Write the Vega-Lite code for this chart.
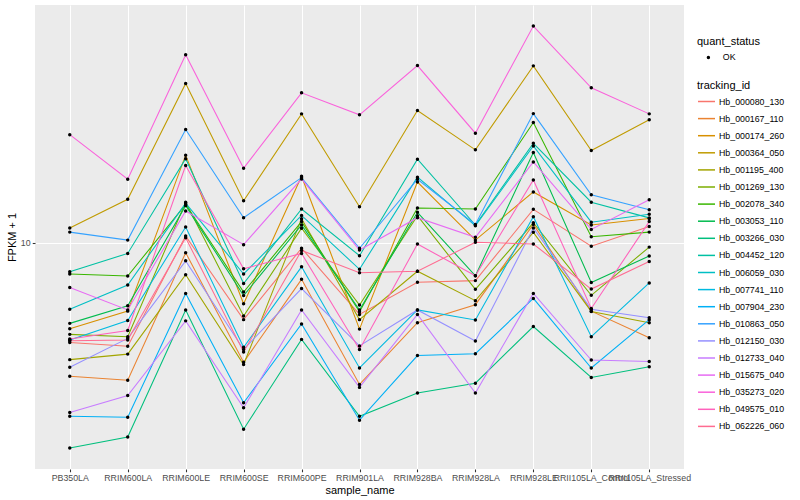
{
  "$schema": "https://vega.github.io/schema/vega-lite/v6.json",
  "width": 649,
  "height": 464,
  "autosize": {"type": "none"},
  "padding": {"left": 35, "top": 5, "right": 116, "bottom": 31},
  "background": "white",
  "config": {
    "view": {"fill": "#EBEBEB", "stroke": null},
    "font": "Liberation Sans",
    "axis": {
      "domain": false,
      "gridColor": "white",
      "gridWidth": 1.07,
      "tickColor": "#333333",
      "tickSize": 2.75,
      "tickWidth": 1.07,
      "labelColor": "#4D4D4D",
      "labelFontSize": 8.8,
      "labelPadding": 2.2,
      "titleColor": "black",
      "titleFontSize": 11,
      "titleFontWeight": "normal"
    },
    "legend": {
      "titleFontSize": 11,
      "titleFontWeight": "normal",
      "titleColor": "black",
      "labelFontSize": 8.8,
      "labelColor": "black",
      "padding": 0
    }
  },
  "data": {
    "values": [
      {"tracking_id": "Hb_000080_130", "sample_name": "PB350LA", "fpkm": 6.32, "quant_status": "OK"},
      {"tracking_id": "Hb_000080_130", "sample_name": "RRIM600LA", "fpkm": 6.21, "quant_status": "OK"},
      {"tracking_id": "Hb_000080_130", "sample_name": "RRIM600LE", "fpkm": 10.31, "quant_status": "OK"},
      {"tracking_id": "Hb_000080_130", "sample_name": "RRIM600SE", "fpkm": 7.02, "quant_status": "OK"},
      {"tracking_id": "Hb_000080_130", "sample_name": "RRIM600PE", "fpkm": 9.75, "quant_status": "OK"},
      {"tracking_id": "Hb_000080_130", "sample_name": "RRIM901LA", "fpkm": 7.19, "quant_status": "OK"},
      {"tracking_id": "Hb_000080_130", "sample_name": "RRIM928BA", "fpkm": 8.34, "quant_status": "OK"},
      {"tracking_id": "Hb_000080_130", "sample_name": "RRIM928LA", "fpkm": 8.40, "quant_status": "OK"},
      {"tracking_id": "Hb_000080_130", "sample_name": "RRIM928LE", "fpkm": 11.66, "quant_status": "OK"},
      {"tracking_id": "Hb_000080_130", "sample_name": "RRII105LA_Control", "fpkm": 9.84, "quant_status": "OK"},
      {"tracking_id": "Hb_000080_130", "sample_name": "RRII105LA_Stressed", "fpkm": 10.77, "quant_status": "OK"},

      {"tracking_id": "Hb_000167_110", "sample_name": "PB350LA", "fpkm": 5.41, "quant_status": "OK"},
      {"tracking_id": "Hb_000167_110", "sample_name": "RRIM600LA", "fpkm": 5.31, "quant_status": "OK"},
      {"tracking_id": "Hb_000167_110", "sample_name": "RRIM600LE", "fpkm": 9.55, "quant_status": "OK"},
      {"tracking_id": "Hb_000167_110", "sample_name": "RRIM600SE", "fpkm": 5.77, "quant_status": "OK"},
      {"tracking_id": "Hb_000167_110", "sample_name": "RRIM600PE", "fpkm": 8.45, "quant_status": "OK"},
      {"tracking_id": "Hb_000167_110", "sample_name": "RRIM901LA", "fpkm": 5.21, "quant_status": "OK"},
      {"tracking_id": "Hb_000167_110", "sample_name": "RRIM928BA", "fpkm": 6.92, "quant_status": "OK"},
      {"tracking_id": "Hb_000167_110", "sample_name": "RRIM928LA", "fpkm": 7.52, "quant_status": "OK"},
      {"tracking_id": "Hb_000167_110", "sample_name": "RRIM928LE", "fpkm": 10.88, "quant_status": "OK"},
      {"tracking_id": "Hb_000167_110", "sample_name": "RRII105LA_Control", "fpkm": 7.30, "quant_status": "OK"},
      {"tracking_id": "Hb_000167_110", "sample_name": "RRII105LA_Stressed", "fpkm": 6.46, "quant_status": "OK"},

      {"tracking_id": "Hb_000174_260", "sample_name": "PB350LA", "fpkm": 6.73, "quant_status": "OK"},
      {"tracking_id": "Hb_000174_260", "sample_name": "RRIM600LA", "fpkm": 7.30, "quant_status": "OK"},
      {"tracking_id": "Hb_000174_260", "sample_name": "RRIM600LE", "fpkm": 14.96, "quant_status": "OK"},
      {"tracking_id": "Hb_000174_260", "sample_name": "RRIM600SE", "fpkm": 7.55, "quant_status": "OK"},
      {"tracking_id": "Hb_000174_260", "sample_name": "RRIM600PE", "fpkm": 13.58, "quant_status": "OK"},
      {"tracking_id": "Hb_000174_260", "sample_name": "RRIM901LA", "fpkm": 6.72, "quant_status": "OK"},
      {"tracking_id": "Hb_000174_260", "sample_name": "RRIM928BA", "fpkm": 13.22, "quant_status": "OK"},
      {"tracking_id": "Hb_000174_260", "sample_name": "RRIM928LA", "fpkm": 10.12, "quant_status": "OK"},
      {"tracking_id": "Hb_000174_260", "sample_name": "RRIM928LE", "fpkm": 12.63, "quant_status": "OK"},
      {"tracking_id": "Hb_000174_260", "sample_name": "RRII105LA_Control", "fpkm": 10.85, "quant_status": "OK"},
      {"tracking_id": "Hb_000174_260", "sample_name": "RRII105LA_Stressed", "fpkm": 11.18, "quant_status": "OK"},

      {"tracking_id": "Hb_000364_050", "sample_name": "PB350LA", "fpkm": 10.70, "quant_status": "OK"},
      {"tracking_id": "Hb_000364_050", "sample_name": "RRIM600LA", "fpkm": 12.21, "quant_status": "OK"},
      {"tracking_id": "Hb_000364_050", "sample_name": "RRIM600LE", "fpkm": 20.80, "quant_status": "OK"},
      {"tracking_id": "Hb_000364_050", "sample_name": "RRIM600SE", "fpkm": 12.13, "quant_status": "OK"},
      {"tracking_id": "Hb_000364_050", "sample_name": "RRIM600PE", "fpkm": 18.09, "quant_status": "OK"},
      {"tracking_id": "Hb_000364_050", "sample_name": "RRIM901LA", "fpkm": 11.80, "quant_status": "OK"},
      {"tracking_id": "Hb_000364_050", "sample_name": "RRIM928BA", "fpkm": 18.37, "quant_status": "OK"},
      {"tracking_id": "Hb_000364_050", "sample_name": "RRIM928LA", "fpkm": 15.33, "quant_status": "OK"},
      {"tracking_id": "Hb_000364_050", "sample_name": "RRIM928LE", "fpkm": 22.56, "quant_status": "OK"},
      {"tracking_id": "Hb_000364_050", "sample_name": "RRII105LA_Control", "fpkm": 15.28, "quant_status": "OK"},
      {"tracking_id": "Hb_000364_050", "sample_name": "RRII105LA_Stressed", "fpkm": 17.60, "quant_status": "OK"},

      {"tracking_id": "Hb_001195_400", "sample_name": "PB350LA", "fpkm": 5.84, "quant_status": "OK"},
      {"tracking_id": "Hb_001195_400", "sample_name": "RRIM600LA", "fpkm": 5.99, "quant_status": "OK"},
      {"tracking_id": "Hb_001195_400", "sample_name": "RRIM600LE", "fpkm": 8.63, "quant_status": "OK"},
      {"tracking_id": "Hb_001195_400", "sample_name": "RRIM600SE", "fpkm": 5.71, "quant_status": "OK"},
      {"tracking_id": "Hb_001195_400", "sample_name": "RRIM600PE", "fpkm": 11.17, "quant_status": "OK"},
      {"tracking_id": "Hb_001195_400", "sample_name": "RRIM901LA", "fpkm": 7.02, "quant_status": "OK"},
      {"tracking_id": "Hb_001195_400", "sample_name": "RRIM928BA", "fpkm": 8.77, "quant_status": "OK"},
      {"tracking_id": "Hb_001195_400", "sample_name": "RRIM928LA", "fpkm": 7.66, "quant_status": "OK"},
      {"tracking_id": "Hb_001195_400", "sample_name": "RRIM928LE", "fpkm": 10.49, "quant_status": "OK"},
      {"tracking_id": "Hb_001195_400", "sample_name": "RRII105LA_Control", "fpkm": 7.29, "quant_status": "OK"},
      {"tracking_id": "Hb_001195_400", "sample_name": "RRII105LA_Stressed", "fpkm": 6.92, "quant_status": "OK"},

      {"tracking_id": "Hb_001269_130", "sample_name": "PB350LA", "fpkm": 6.56, "quant_status": "OK"},
      {"tracking_id": "Hb_001269_130", "sample_name": "RRIM600LA", "fpkm": 6.49, "quant_status": "OK"},
      {"tracking_id": "Hb_001269_130", "sample_name": "RRIM600LE", "fpkm": 12.05, "quant_status": "OK"},
      {"tracking_id": "Hb_001269_130", "sample_name": "RRIM600SE", "fpkm": 7.14, "quant_status": "OK"},
      {"tracking_id": "Hb_001269_130", "sample_name": "RRIM600PE", "fpkm": 10.69, "quant_status": "OK"},
      {"tracking_id": "Hb_001269_130", "sample_name": "RRIM901LA", "fpkm": 7.51, "quant_status": "OK"},
      {"tracking_id": "Hb_001269_130", "sample_name": "RRIM928BA", "fpkm": 11.32, "quant_status": "OK"},
      {"tracking_id": "Hb_001269_130", "sample_name": "RRIM928LA", "fpkm": 8.07, "quant_status": "OK"},
      {"tracking_id": "Hb_001269_130", "sample_name": "RRIM928LE", "fpkm": 10.96, "quant_status": "OK"},
      {"tracking_id": "Hb_001269_130", "sample_name": "RRII105LA_Control", "fpkm": 7.85, "quant_status": "OK"},
      {"tracking_id": "Hb_001269_130", "sample_name": "RRII105LA_Stressed", "fpkm": 9.80, "quant_status": "OK"},

      {"tracking_id": "Hb_002078_340", "sample_name": "PB350LA", "fpkm": 8.66, "quant_status": "OK"},
      {"tracking_id": "Hb_002078_340", "sample_name": "RRIM600LA", "fpkm": 8.58, "quant_status": "OK"},
      {"tracking_id": "Hb_002078_340", "sample_name": "RRIM600LE", "fpkm": 11.93, "quant_status": "OK"},
      {"tracking_id": "Hb_002078_340", "sample_name": "RRIM600SE", "fpkm": 7.97, "quant_status": "OK"},
      {"tracking_id": "Hb_002078_340", "sample_name": "RRIM600PE", "fpkm": 11.02, "quant_status": "OK"},
      {"tracking_id": "Hb_002078_340", "sample_name": "RRIM901LA", "fpkm": 7.28, "quant_status": "OK"},
      {"tracking_id": "Hb_002078_340", "sample_name": "RRIM928BA", "fpkm": 11.73, "quant_status": "OK"},
      {"tracking_id": "Hb_002078_340", "sample_name": "RRIM928LA", "fpkm": 11.68, "quant_status": "OK"},
      {"tracking_id": "Hb_002078_340", "sample_name": "RRIM928LE", "fpkm": 17.38, "quant_status": "OK"},
      {"tracking_id": "Hb_002078_340", "sample_name": "RRII105LA_Control", "fpkm": 10.28, "quant_status": "OK"},
      {"tracking_id": "Hb_002078_340", "sample_name": "RRII105LA_Stressed", "fpkm": 10.50, "quant_status": "OK"},

      {"tracking_id": "Hb_003053_110", "sample_name": "PB350LA", "fpkm": 6.90, "quant_status": "OK"},
      {"tracking_id": "Hb_003053_110", "sample_name": "RRIM600LA", "fpkm": 7.48, "quant_status": "OK"},
      {"tracking_id": "Hb_003053_110", "sample_name": "RRIM600LE", "fpkm": 11.86, "quant_status": "OK"},
      {"tracking_id": "Hb_003053_110", "sample_name": "RRIM600SE", "fpkm": 7.84, "quant_status": "OK"},
      {"tracking_id": "Hb_003053_110", "sample_name": "RRIM600PE", "fpkm": 10.85, "quant_status": "OK"},
      {"tracking_id": "Hb_003053_110", "sample_name": "RRIM901LA", "fpkm": 7.34, "quant_status": "OK"},
      {"tracking_id": "Hb_003053_110", "sample_name": "RRIM928BA", "fpkm": 11.50, "quant_status": "OK"},
      {"tracking_id": "Hb_003053_110", "sample_name": "RRIM928LA", "fpkm": 8.59, "quant_status": "OK"},
      {"tracking_id": "Hb_003053_110", "sample_name": "RRIM928LE", "fpkm": 15.14, "quant_status": "OK"},
      {"tracking_id": "Hb_003053_110", "sample_name": "RRII105LA_Control", "fpkm": 8.33, "quant_status": "OK"},
      {"tracking_id": "Hb_003053_110", "sample_name": "RRII105LA_Stressed", "fpkm": 9.41, "quant_status": "OK"},

      {"tracking_id": "Hb_003266_030", "sample_name": "PB350LA", "fpkm": 3.89, "quant_status": "OK"},
      {"tracking_id": "Hb_003266_030", "sample_name": "RRIM600LA", "fpkm": 4.09, "quant_status": "OK"},
      {"tracking_id": "Hb_003266_030", "sample_name": "RRIM600LE", "fpkm": 7.34, "quant_status": "OK"},
      {"tracking_id": "Hb_003266_030", "sample_name": "RRIM600SE", "fpkm": 4.24, "quant_status": "OK"},
      {"tracking_id": "Hb_003266_030", "sample_name": "RRIM600PE", "fpkm": 6.41, "quant_status": "OK"},
      {"tracking_id": "Hb_003266_030", "sample_name": "RRIM901LA", "fpkm": 4.50, "quant_status": "OK"},
      {"tracking_id": "Hb_003266_030", "sample_name": "RRIM928BA", "fpkm": 5.01, "quant_status": "OK"},
      {"tracking_id": "Hb_003266_030", "sample_name": "RRIM928LA", "fpkm": 5.24, "quant_status": "OK"},
      {"tracking_id": "Hb_003266_030", "sample_name": "RRIM928LE", "fpkm": 6.80, "quant_status": "OK"},
      {"tracking_id": "Hb_003266_030", "sample_name": "RRII105LA_Control", "fpkm": 5.38, "quant_status": "OK"},
      {"tracking_id": "Hb_003266_030", "sample_name": "RRII105LA_Stressed", "fpkm": 5.65, "quant_status": "OK"},

      {"tracking_id": "Hb_004452_120", "sample_name": "PB350LA", "fpkm": 8.75, "quant_status": "OK"},
      {"tracking_id": "Hb_004452_120", "sample_name": "RRIM600LA", "fpkm": 9.52, "quant_status": "OK"},
      {"tracking_id": "Hb_004452_120", "sample_name": "RRIM600LE", "fpkm": 14.72, "quant_status": "OK"},
      {"tracking_id": "Hb_004452_120", "sample_name": "RRIM600SE", "fpkm": 8.29, "quant_status": "OK"},
      {"tracking_id": "Hb_004452_120", "sample_name": "RRIM600PE", "fpkm": 11.68, "quant_status": "OK"},
      {"tracking_id": "Hb_004452_120", "sample_name": "RRIM901LA", "fpkm": 9.42, "quant_status": "OK"},
      {"tracking_id": "Hb_004452_120", "sample_name": "RRIM928BA", "fpkm": 14.68, "quant_status": "OK"},
      {"tracking_id": "Hb_004452_120", "sample_name": "RRIM928LA", "fpkm": 10.85, "quant_status": "OK"},
      {"tracking_id": "Hb_004452_120", "sample_name": "RRIM928LE", "fpkm": 15.80, "quant_status": "OK"},
      {"tracking_id": "Hb_004452_120", "sample_name": "RRII105LA_Control", "fpkm": 12.05, "quant_status": "OK"},
      {"tracking_id": "Hb_004452_120", "sample_name": "RRII105LA_Stressed", "fpkm": 11.21, "quant_status": "OK"},

      {"tracking_id": "Hb_006059_030", "sample_name": "PB350LA", "fpkm": 7.36, "quant_status": "OK"},
      {"tracking_id": "Hb_006059_030", "sample_name": "RRIM600LA", "fpkm": 8.23, "quant_status": "OK"},
      {"tracking_id": "Hb_006059_030", "sample_name": "RRIM600LE", "fpkm": 12.00, "quant_status": "OK"},
      {"tracking_id": "Hb_006059_030", "sample_name": "RRIM600SE", "fpkm": 8.66, "quant_status": "OK"},
      {"tracking_id": "Hb_006059_030", "sample_name": "RRIM600PE", "fpkm": 11.34, "quant_status": "OK"},
      {"tracking_id": "Hb_006059_030", "sample_name": "RRIM901LA", "fpkm": 8.85, "quant_status": "OK"},
      {"tracking_id": "Hb_006059_030", "sample_name": "RRIM928BA", "fpkm": 13.52, "quant_status": "OK"},
      {"tracking_id": "Hb_006059_030", "sample_name": "RRIM928LA", "fpkm": 10.81, "quant_status": "OK"},
      {"tracking_id": "Hb_006059_030", "sample_name": "RRIM928LE", "fpkm": 15.61, "quant_status": "OK"},
      {"tracking_id": "Hb_006059_030", "sample_name": "RRII105LA_Control", "fpkm": 10.99, "quant_status": "OK"},
      {"tracking_id": "Hb_006059_030", "sample_name": "RRII105LA_Stressed", "fpkm": 11.40, "quant_status": "OK"},

      {"tracking_id": "Hb_007741_110", "sample_name": "PB350LA", "fpkm": 6.39, "quant_status": "OK"},
      {"tracking_id": "Hb_007741_110", "sample_name": "RRIM600LA", "fpkm": 6.99, "quant_status": "OK"},
      {"tracking_id": "Hb_007741_110", "sample_name": "RRIM600LE", "fpkm": 10.75, "quant_status": "OK"},
      {"tracking_id": "Hb_007741_110", "sample_name": "RRIM600SE", "fpkm": 6.18, "quant_status": "OK"},
      {"tracking_id": "Hb_007741_110", "sample_name": "RRIM600PE", "fpkm": 8.95, "quant_status": "OK"},
      {"tracking_id": "Hb_007741_110", "sample_name": "RRIM901LA", "fpkm": 5.62, "quant_status": "OK"},
      {"tracking_id": "Hb_007741_110", "sample_name": "RRIM928BA", "fpkm": 7.34, "quant_status": "OK"},
      {"tracking_id": "Hb_007741_110", "sample_name": "RRIM928LA", "fpkm": 7.01, "quant_status": "OK"},
      {"tracking_id": "Hb_007741_110", "sample_name": "RRIM928LE", "fpkm": 11.27, "quant_status": "OK"},
      {"tracking_id": "Hb_007741_110", "sample_name": "RRII105LA_Control", "fpkm": 6.49, "quant_status": "OK"},
      {"tracking_id": "Hb_007741_110", "sample_name": "RRII105LA_Stressed", "fpkm": 8.31, "quant_status": "OK"},

      {"tracking_id": "Hb_007904_230", "sample_name": "PB350LA", "fpkm": 4.50, "quant_status": "OK"},
      {"tracking_id": "Hb_007904_230", "sample_name": "RRIM600LA", "fpkm": 4.48, "quant_status": "OK"},
      {"tracking_id": "Hb_007904_230", "sample_name": "RRIM600LE", "fpkm": 7.92, "quant_status": "OK"},
      {"tracking_id": "Hb_007904_230", "sample_name": "RRIM600SE", "fpkm": 4.79, "quant_status": "OK"},
      {"tracking_id": "Hb_007904_230", "sample_name": "RRIM600PE", "fpkm": 6.88, "quant_status": "OK"},
      {"tracking_id": "Hb_007904_230", "sample_name": "RRIM901LA", "fpkm": 4.42, "quant_status": "OK"},
      {"tracking_id": "Hb_007904_230", "sample_name": "RRIM928BA", "fpkm": 5.95, "quant_status": "OK"},
      {"tracking_id": "Hb_007904_230", "sample_name": "RRIM928LA", "fpkm": 6.00, "quant_status": "OK"},
      {"tracking_id": "Hb_007904_230", "sample_name": "RRIM928LE", "fpkm": 7.74, "quant_status": "OK"},
      {"tracking_id": "Hb_007904_230", "sample_name": "RRII105LA_Control", "fpkm": 5.62, "quant_status": "OK"},
      {"tracking_id": "Hb_007904_230", "sample_name": "RRII105LA_Stressed", "fpkm": 7.02, "quant_status": "OK"},

      {"tracking_id": "Hb_010863_050", "sample_name": "PB350LA", "fpkm": 10.50, "quant_status": "OK"},
      {"tracking_id": "Hb_010863_050", "sample_name": "RRIM600LA", "fpkm": 10.12, "quant_status": "OK"},
      {"tracking_id": "Hb_010863_050", "sample_name": "RRIM600LE", "fpkm": 16.83, "quant_status": "OK"},
      {"tracking_id": "Hb_010863_050", "sample_name": "RRIM600SE", "fpkm": 11.22, "quant_status": "OK"},
      {"tracking_id": "Hb_010863_050", "sample_name": "RRIM600PE", "fpkm": 13.49, "quant_status": "OK"},
      {"tracking_id": "Hb_010863_050", "sample_name": "RRIM901LA", "fpkm": 9.75, "quant_status": "OK"},
      {"tracking_id": "Hb_010863_050", "sample_name": "RRIM928BA", "fpkm": 13.39, "quant_status": "OK"},
      {"tracking_id": "Hb_010863_050", "sample_name": "RRIM928LA", "fpkm": 10.88, "quant_status": "OK"},
      {"tracking_id": "Hb_010863_050", "sample_name": "RRIM928LE", "fpkm": 18.11, "quant_status": "OK"},
      {"tracking_id": "Hb_010863_050", "sample_name": "RRII105LA_Control", "fpkm": 12.47, "quant_status": "OK"},
      {"tracking_id": "Hb_010863_050", "sample_name": "RRII105LA_Stressed", "fpkm": 11.64, "quant_status": "OK"},

      {"tracking_id": "Hb_012150_030", "sample_name": "PB350LA", "fpkm": 5.64, "quant_status": "OK"},
      {"tracking_id": "Hb_012150_030", "sample_name": "RRIM600LA", "fpkm": 6.44, "quant_status": "OK"},
      {"tracking_id": "Hb_012150_030", "sample_name": "RRIM600LE", "fpkm": 9.20, "quant_status": "OK"},
      {"tracking_id": "Hb_012150_030", "sample_name": "RRIM600SE", "fpkm": 6.12, "quant_status": "OK"},
      {"tracking_id": "Hb_012150_030", "sample_name": "RRIM600PE", "fpkm": 8.10, "quant_status": "OK"},
      {"tracking_id": "Hb_012150_030", "sample_name": "RRIM901LA", "fpkm": 6.22, "quant_status": "OK"},
      {"tracking_id": "Hb_012150_030", "sample_name": "RRIM928BA", "fpkm": 7.34, "quant_status": "OK"},
      {"tracking_id": "Hb_012150_030", "sample_name": "RRIM928LA", "fpkm": 6.36, "quant_status": "OK"},
      {"tracking_id": "Hb_012150_030", "sample_name": "RRIM928LE", "fpkm": 10.70, "quant_status": "OK"},
      {"tracking_id": "Hb_012150_030", "sample_name": "RRII105LA_Control", "fpkm": 7.36, "quant_status": "OK"},
      {"tracking_id": "Hb_012150_030", "sample_name": "RRII105LA_Stressed", "fpkm": 7.08, "quant_status": "OK"},

      {"tracking_id": "Hb_012733_040", "sample_name": "PB350LA", "fpkm": 4.58, "quant_status": "OK"},
      {"tracking_id": "Hb_012733_040", "sample_name": "RRIM600LA", "fpkm": 4.95, "quant_status": "OK"},
      {"tracking_id": "Hb_012733_040", "sample_name": "RRIM600LE", "fpkm": 6.98, "quant_status": "OK"},
      {"tracking_id": "Hb_012733_040", "sample_name": "RRIM600SE", "fpkm": 4.68, "quant_status": "OK"},
      {"tracking_id": "Hb_012733_040", "sample_name": "RRIM600PE", "fpkm": 7.34, "quant_status": "OK"},
      {"tracking_id": "Hb_012733_040", "sample_name": "RRIM901LA", "fpkm": 5.14, "quant_status": "OK"},
      {"tracking_id": "Hb_012733_040", "sample_name": "RRIM928BA", "fpkm": 7.19, "quant_status": "OK"},
      {"tracking_id": "Hb_012733_040", "sample_name": "RRIM928LA", "fpkm": 5.01, "quant_status": "OK"},
      {"tracking_id": "Hb_012733_040", "sample_name": "RRIM928LE", "fpkm": 7.92, "quant_status": "OK"},
      {"tracking_id": "Hb_012733_040", "sample_name": "RRII105LA_Control", "fpkm": 5.83, "quant_status": "OK"},
      {"tracking_id": "Hb_012733_040", "sample_name": "RRII105LA_Stressed", "fpkm": 5.79, "quant_status": "OK"},

      {"tracking_id": "Hb_015675_040", "sample_name": "PB350LA", "fpkm": 8.14, "quant_status": "OK"},
      {"tracking_id": "Hb_015675_040", "sample_name": "RRIM600LA", "fpkm": 7.34, "quant_status": "OK"},
      {"tracking_id": "Hb_015675_040", "sample_name": "RRIM600LE", "fpkm": 11.57, "quant_status": "OK"},
      {"tracking_id": "Hb_015675_040", "sample_name": "RRIM600SE", "fpkm": 9.91, "quant_status": "OK"},
      {"tracking_id": "Hb_015675_040", "sample_name": "RRIM600PE", "fpkm": 13.41, "quant_status": "OK"},
      {"tracking_id": "Hb_015675_040", "sample_name": "RRIM901LA", "fpkm": 9.67, "quant_status": "OK"},
      {"tracking_id": "Hb_015675_040", "sample_name": "RRIM928BA", "fpkm": 11.22, "quant_status": "OK"},
      {"tracking_id": "Hb_015675_040", "sample_name": "RRIM928LA", "fpkm": 10.25, "quant_status": "OK"},
      {"tracking_id": "Hb_015675_040", "sample_name": "RRIM928LE", "fpkm": 14.50, "quant_status": "OK"},
      {"tracking_id": "Hb_015675_040", "sample_name": "RRII105LA_Control", "fpkm": 10.63, "quant_status": "OK"},
      {"tracking_id": "Hb_015675_040", "sample_name": "RRII105LA_Stressed", "fpkm": 12.19, "quant_status": "OK"},

      {"tracking_id": "Hb_035273_020", "sample_name": "PB350LA", "fpkm": 16.44, "quant_status": "OK"},
      {"tracking_id": "Hb_035273_020", "sample_name": "RRIM600LA", "fpkm": 13.39, "quant_status": "OK"},
      {"tracking_id": "Hb_035273_020", "sample_name": "RRIM600LE", "fpkm": 23.74, "quant_status": "OK"},
      {"tracking_id": "Hb_035273_020", "sample_name": "RRIM600SE", "fpkm": 14.09, "quant_status": "OK"},
      {"tracking_id": "Hb_035273_020", "sample_name": "RRIM600PE", "fpkm": 19.93, "quant_status": "OK"},
      {"tracking_id": "Hb_035273_020", "sample_name": "RRIM901LA", "fpkm": 18.01, "quant_status": "OK"},
      {"tracking_id": "Hb_035273_020", "sample_name": "RRIM928BA", "fpkm": 22.59, "quant_status": "OK"},
      {"tracking_id": "Hb_035273_020", "sample_name": "RRIM928LA", "fpkm": 16.55, "quant_status": "OK"},
      {"tracking_id": "Hb_035273_020", "sample_name": "RRIM928LE", "fpkm": 27.09, "quant_status": "OK"},
      {"tracking_id": "Hb_035273_020", "sample_name": "RRII105LA_Control", "fpkm": 20.39, "quant_status": "OK"},
      {"tracking_id": "Hb_035273_020", "sample_name": "RRII105LA_Stressed", "fpkm": 18.09, "quant_status": "OK"},

      {"tracking_id": "Hb_049575_010", "sample_name": "PB350LA", "fpkm": 6.42, "quant_status": "OK"},
      {"tracking_id": "Hb_049575_010", "sample_name": "RRIM600LA", "fpkm": 6.68, "quant_status": "OK"},
      {"tracking_id": "Hb_049575_010", "sample_name": "RRIM600LE", "fpkm": 14.26, "quant_status": "OK"},
      {"tracking_id": "Hb_049575_010", "sample_name": "RRIM600SE", "fpkm": 8.87, "quant_status": "OK"},
      {"tracking_id": "Hb_049575_010", "sample_name": "RRIM600PE", "fpkm": 9.52, "quant_status": "OK"},
      {"tracking_id": "Hb_049575_010", "sample_name": "RRIM901LA", "fpkm": 6.12, "quant_status": "OK"},
      {"tracking_id": "Hb_049575_010", "sample_name": "RRIM928BA", "fpkm": 9.94, "quant_status": "OK"},
      {"tracking_id": "Hb_049575_010", "sample_name": "RRIM928LA", "fpkm": 8.59, "quant_status": "OK"},
      {"tracking_id": "Hb_049575_010", "sample_name": "RRIM928LE", "fpkm": 13.35, "quant_status": "OK"},
      {"tracking_id": "Hb_049575_010", "sample_name": "RRII105LA_Control", "fpkm": 7.39, "quant_status": "OK"},
      {"tracking_id": "Hb_049575_010", "sample_name": "RRII105LA_Stressed", "fpkm": 11.02, "quant_status": "OK"},

      {"tracking_id": "Hb_062226_060", "sample_name": "PB350LA", "fpkm": 6.37, "quant_status": "OK"},
      {"tracking_id": "Hb_062226_060", "sample_name": "RRIM600LA", "fpkm": 6.39, "quant_status": "OK"},
      {"tracking_id": "Hb_062226_060", "sample_name": "RRIM600LE", "fpkm": 10.23, "quant_status": "OK"},
      {"tracking_id": "Hb_062226_060", "sample_name": "RRIM600SE", "fpkm": 6.05, "quant_status": "OK"},
      {"tracking_id": "Hb_062226_060", "sample_name": "RRIM600PE", "fpkm": 9.65, "quant_status": "OK"},
      {"tracking_id": "Hb_062226_060", "sample_name": "RRIM901LA", "fpkm": 8.71, "quant_status": "OK"},
      {"tracking_id": "Hb_062226_060", "sample_name": "RRIM928BA", "fpkm": 8.77, "quant_status": "OK"},
      {"tracking_id": "Hb_062226_060", "sample_name": "RRIM928LA", "fpkm": 10.02, "quant_status": "OK"},
      {"tracking_id": "Hb_062226_060", "sample_name": "RRIM928LE", "fpkm": 9.94, "quant_status": "OK"},
      {"tracking_id": "Hb_062226_060", "sample_name": "RRII105LA_Control", "fpkm": 8.08, "quant_status": "OK"},
      {"tracking_id": "Hb_062226_060", "sample_name": "RRII105LA_Stressed", "fpkm": 9.17, "quant_status": "OK"}
    ]
  },
  "encoding": {
    "x": {
      "field": "sample_name",
      "type": "ordinal",
      "scale": {
        "type": "point",
        "padding": 0.6,
        "domain": ["PB350LA", "RRIM600LA", "RRIM600LE", "RRIM600SE", "RRIM600PE", "RRIM901LA", "RRIM928BA", "RRIM928LA", "RRIM928LE", "RRII105LA_Control", "RRII105LA_Stressed"]
      },
      "axis": {"labelAngle": 0, "labelOverlap": false, "title": "sample_name", "titlePadding": 2, "grid": true, "labelLimit": 300}
    },
    "y": {
      "field": "fpkm",
      "type": "quantitative",
      "scale": {"type": "log", "domain": [3.531, 29.85], "nice": false, "zero": false},
      "axis": {"values": [10], "title": "FPKM + 1", "titlePadding": 3, "grid": true}
    }
  },
  "layer": [
    {
      "mark": {"type": "line", "strokeWidth": 1.07},
      "encoding": {
        "order": {"value": null},
        "color": {
          "field": "tracking_id",
          "type": "nominal",
          "scale": {"range": ["#F8766D", "#EA8331", "#D89000", "#C09B00", "#A3A500", "#7CAE00", "#39B600", "#00BB4E", "#00BF7D", "#00C1A3", "#00BFC4", "#00BAE0", "#00B0F6", "#35A2FF", "#9590FF", "#C77CFF", "#E76BF3", "#FA62DB", "#FF62BC", "#FF6C91"]},
          "legend": {
            "orient": "none",
            "legendX": 662,
            "legendY": 75,
            "title": "tracking_id",
            "titlePadding": 1,
            "symbolType": "stroke",
            "symbolSize": 289,
            "symbolStrokeWidth": 1.5,
            "labelOffset": 3,
            "rowPadding": 2.1
          }
        }
      }
    },
    {
      "mark": {"type": "point", "filled": true, "color": "black", "size": 12, "opacity": 1},
      "encoding": {
        "shape": {
          "field": "quant_status",
          "type": "nominal",
          "scale": {"range": ["circle"]},
          "legend": {
            "orient": "none",
            "legendX": 662,
            "legendY": 31,
            "title": "quant_status",
            "titlePadding": 6,
            "symbolSize": 12,
            "symbolFillColor": "black",
            "symbolStrokeColor": "black",
            "symbolOffset": 7,
            "labelOffset": 10
          }
        }
      }
    }
  ]
}
